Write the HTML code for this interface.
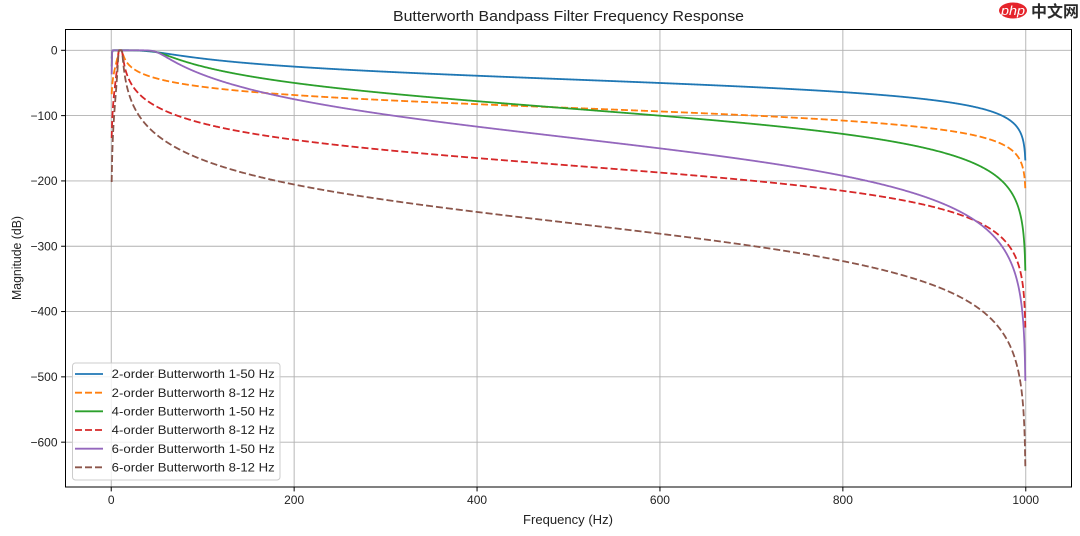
<!DOCTYPE html>
<html><head><meta charset="utf-8">
<style>
html,body{margin:0;padding:0;background:#fff}
svg{display:block}
text{font-family:"Liberation Sans","DejaVu Sans",sans-serif;fill:#222}
</style></head>
<body>
<svg id="s" width="1080" height="536" viewBox="0 0 1080 536" xmlns="http://www.w3.org/2000/svg">
<rect width="1080" height="536" fill="#fff"/>
<defs><clipPath id="c"><rect x="65.5" y="29.5" width="1006" height="457.5"/></clipPath></defs>

<!-- grid -->
<g stroke="#b0b0b0" stroke-width="0.9" fill="none">
  <line x1="111.23" y1="29.5" x2="111.23" y2="487"/>
  <line x1="294.14" y1="29.5" x2="294.14" y2="487"/>
  <line x1="477.05" y1="29.5" x2="477.05" y2="487"/>
  <line x1="659.95" y1="29.5" x2="659.95" y2="487"/>
  <line x1="842.86" y1="29.5" x2="842.86" y2="487"/>
  <line x1="1025.77" y1="29.5" x2="1025.77" y2="487"/>
  <line x1="65.5" y1="50.30" x2="1071.5" y2="50.30"/>
  <line x1="65.5" y1="115.61" x2="1071.5" y2="115.61"/>
  <line x1="65.5" y1="180.92" x2="1071.5" y2="180.92"/>
  <line x1="65.5" y1="246.24" x2="1071.5" y2="246.24"/>
  <line x1="65.5" y1="311.55" x2="1071.5" y2="311.55"/>
  <line x1="65.5" y1="376.86" x2="1071.5" y2="376.86"/>
  <line x1="65.5" y1="442.17" x2="1071.5" y2="442.17"/>
</g>

<g id="curves" clip-path="url(#c)" fill="none" stroke-width="1.8" stroke-linejoin="round" stroke-linecap="butt"></g>

<!-- spines -->
<rect x="65.5" y="29.5" width="1006" height="457.5" fill="none" stroke="#000" stroke-width="1"/>

<!-- ticks -->
<g stroke="#000" stroke-width="1">
  <line x1="111.23" y1="487" x2="111.23" y2="491.4"/>
  <line x1="294.14" y1="487" x2="294.14" y2="491.4"/>
  <line x1="477.05" y1="487" x2="477.05" y2="491.4"/>
  <line x1="659.95" y1="487" x2="659.95" y2="491.4"/>
  <line x1="842.86" y1="487" x2="842.86" y2="491.4"/>
  <line x1="1025.77" y1="487" x2="1025.77" y2="491.4"/>
  <line x1="61.1" y1="50.30" x2="65.5" y2="50.30"/>
  <line x1="61.1" y1="115.61" x2="65.5" y2="115.61"/>
  <line x1="61.1" y1="180.92" x2="65.5" y2="180.92"/>
  <line x1="61.1" y1="246.24" x2="65.5" y2="246.24"/>
  <line x1="61.1" y1="311.55" x2="65.5" y2="311.55"/>
  <line x1="61.1" y1="376.86" x2="65.5" y2="376.86"/>
  <line x1="61.1" y1="442.17" x2="65.5" y2="442.17"/>
</g>

<g font-size="12" text-anchor="middle">
  <text x="111.23" y="504">0</text>
  <text x="294.14" y="504">200</text>
  <text x="477.05" y="504">400</text>
  <text x="659.95" y="504">600</text>
  <text x="842.86" y="504">800</text>
  <text x="1025.77" y="504">1000</text>
</g>
<g font-size="12" text-anchor="end">
  <text x="57.5" y="54.5">0</text>
  <text x="57.5" y="119.8">−100</text>
  <text x="57.5" y="185.1">−200</text>
  <text x="57.5" y="250.4">−300</text>
  <text x="57.5" y="315.7">−400</text>
  <text x="57.5" y="381.0">−500</text>
  <text x="57.5" y="446.3">−600</text>
</g>

<text x="568" y="524" font-size="12.5" text-anchor="middle" textLength="90" lengthAdjust="spacingAndGlyphs">Frequency (Hz)</text>
<text x="0" y="0" font-size="12.5" text-anchor="middle" transform="translate(21,258) rotate(-90)" textLength="84" lengthAdjust="spacingAndGlyphs">Magnitude (dB)</text>
<text x="568.5" y="21" font-size="14.5" text-anchor="middle" textLength="351" lengthAdjust="spacingAndGlyphs">Butterworth Bandpass Filter Frequency Response</text>

<!-- legend -->
<rect x="72.5" y="363" width="207.5" height="117" rx="3" ry="3" fill="#fff" fill-opacity="0.8" stroke="#cccccc" stroke-width="1"/>
<g stroke-width="1.8" fill="none">
  <line x1="75" y1="374" x2="103" y2="374" stroke="#1f77b4"/>
  <line x1="75" y1="392.7" x2="103" y2="392.7" stroke="#ff7f0e" stroke-dasharray="7 3"/>
  <line x1="75" y1="411.3" x2="103" y2="411.3" stroke="#2ca02c"/>
  <line x1="75" y1="430" x2="103" y2="430" stroke="#d62728" stroke-dasharray="7 3"/>
  <line x1="75" y1="448.7" x2="103" y2="448.7" stroke="#9467bd"/>
  <line x1="75" y1="467.3" x2="103" y2="467.3" stroke="#8c564b" stroke-dasharray="7 3"/>
</g>
<g font-size="12">
  <text x="111.7" y="378.2" textLength="163" lengthAdjust="spacingAndGlyphs">2-order Butterworth 1-50 Hz</text>
  <text x="111.7" y="396.9" textLength="163" lengthAdjust="spacingAndGlyphs">2-order Butterworth 8-12 Hz</text>
  <text x="111.7" y="415.5" textLength="163" lengthAdjust="spacingAndGlyphs">4-order Butterworth 1-50 Hz</text>
  <text x="111.7" y="434.2" textLength="163" lengthAdjust="spacingAndGlyphs">4-order Butterworth 8-12 Hz</text>
  <text x="111.7" y="452.9" textLength="163" lengthAdjust="spacingAndGlyphs">6-order Butterworth 1-50 Hz</text>
  <text x="111.7" y="471.5" textLength="163" lengthAdjust="spacingAndGlyphs">6-order Butterworth 8-12 Hz</text>
</g>

<!-- watermark -->
<ellipse cx="1013" cy="10.5" rx="14" ry="8" fill="#e5242b"/>
<text x="1013" y="15" font-size="12.5" font-style="italic" text-anchor="middle" style="fill:#fff" textLength="24" lengthAdjust="spacingAndGlyphs">php</text>
<text x="1031" y="17" font-size="16" font-weight="bold" style="fill:#2a2a2a;font-family:'Liberation Sans','Noto Sans CJK SC',sans-serif">中文网</text>
</svg>
<script>
(function(){
  var orders=[2,2,4,4,6,6];
  var bands=[[1,50],[8,12],[1,50],[8,12],[1,50],[8,12]];
  var cols=['#1f77b4','#ff7f0e','#2ca02c','#d62728','#9467bd','#8c564b'];
  var dashed=[false,true,false,true,false,true];
  var fs=2000;
  var g=document.getElementById('curves');
  var ns='http://www.w3.org/2000/svg';
  for(var i=0;i<6;i++){
    var N=orders[i], lo=bands[i][0], hi=bands[i][1];
    var W1=Math.tan(Math.PI*lo/fs), W2=Math.tan(Math.PI*hi/fs);
    var B=W2-W1, W0=W1*W2;
    var d='';
    for(var k=1;k<2000;k++){
      var f=k*0.5;
      var W=Math.tan(Math.PI*f/fs);
      var lam=Math.abs((W*W-W0)/(W*B));
      var db=-10*Math.log10(1+Math.pow(lam,2*N));
      var x=65.5+(f+50)*1006/1100;
      var y=29.5+(31.84-db)*0.65312;
      d+=(k===1?'M':'L')+x.toFixed(2)+' '+y.toFixed(2);
    }
    var p=document.createElementNS(ns,'path');
    p.setAttribute('d',d);
    p.setAttribute('stroke',cols[i]);
    if(dashed[i]) p.setAttribute('stroke-dasharray','7 3');
    g.appendChild(p);
  }
})();
</script>
</body></html>
